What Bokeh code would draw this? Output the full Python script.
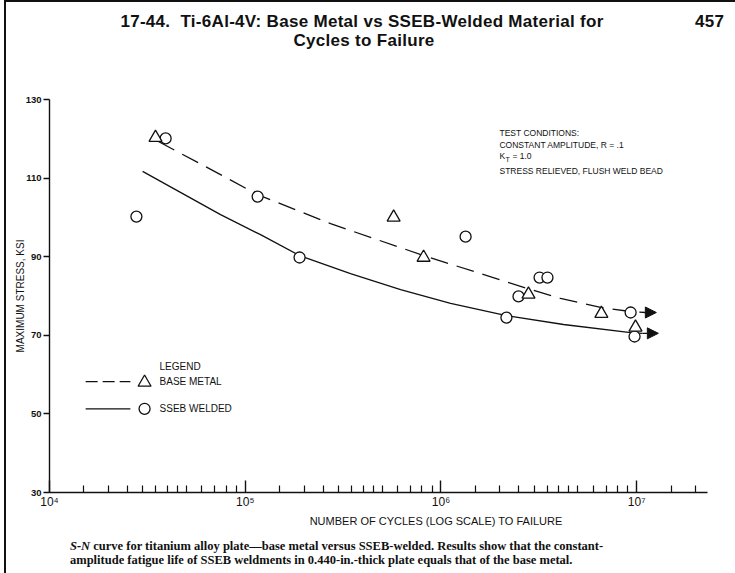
from bokeh.plotting import figure
from bokeh.models import FixedTicker, Label, Arrow, NormalHead, Range1d, Div
from bokeh.layouts import column
from bokeh.embed import file_html
from bokeh.resources import INLINE

# ---- test data (cycles to failure, maximum stress in ksi) ----
base_cycles = [3.48e4, 5.73e5, 8.15e5, 2.80e6, 6.6e6, 9.86e6]
base_stress = [120.3, 100.0, 89.8, 80.4, 75.5, 72.0]

welded_cycles = [3.92e4, 2.78e4, 1.157e5, 1.895e5, 1.336e6, 2.16e6,
                 2.49e6, 3.19e6, 3.50e6, 9.31e6, 9.75e6]
welded_stress = [120.1, 100.2, 105.3, 89.8, 95.1, 74.5,
                 79.9, 84.7, 84.7, 75.8, 69.7]

# ---- faired S-N curves ----
base_curve_cycles = [3.6e4, 5.91e4, 1.157e5, 2.73e5, 8.15e5, 2.77e6, 4.08e6,
                     6.54e6, 9.31e6, 1.11e7]
base_curve_stress = [119.3, 113.6, 105.8, 98.4, 90.3, 81.9, 79.4,
                     77.1, 76.05, 75.8]
base_arrow_tip = 1.26e7

welded_curve_cycles = [2.99e4, 7.48e4, 1.197e5, 1.895e5, 3.45e5, 6.22e5, 1.12e6,
                       2.16e6, 4.23e6, 9.31e6, 1.07e7]
welded_curve_stress = [111.7, 100.7, 95.6, 90.3, 85.7, 81.65, 78.1,
                       75.0, 72.75, 70.7, 70.5]
welded_arrow_tip = 1.29e7

# ---- axes ----
y_ticks = [30, 50, 70, 90, 110, 130]
x_ticks = [1e4, 1e5, 1e6, 1e7]
x_tick_labels = ["10\u2074", "10\u2075", "10\u2076", "10\u2077"]
minor_mantissas = [1.5, 2, 2.5, 3, 3.5, 4, 4.5, 5, 6, 7, 8, 9]
x_minor = [m * d for d in [1e4, 1e5, 1e6] for m in minor_mantissas] + [1.5e7, 2e7]

SANS = "Liberation Sans"
INK = "#111"

p = figure(width=729, height=422, x_axis_type="log",
           x_range=Range1d(1e4, 2.3e7), y_range=Range1d(30, 130),
           output_backend="svg", toolbar_location=None,
           min_border_left=43, min_border_right=28,
           min_border_top=6, min_border_bottom=23, margin=0)
p.outline_line_color = None
p.xgrid.grid_line_color = None
p.ygrid.grid_line_color = None
p.background_fill_color = "white"
p.border_fill_color = "white"

xa = p.xaxis[0]
xa.ticker = FixedTicker(ticks=x_ticks, minor_ticks=x_minor)
xa.major_label_overrides = {int(t): s for t, s in zip(x_ticks, x_tick_labels)}
xa.major_tick_in = 12
xa.major_tick_out = 0
xa.minor_tick_in = 7
xa.minor_tick_out = 0
xa.axis_line_width = 1.4
xa.axis_line_color = INK
xa.major_tick_line_width = 1.4
xa.major_tick_line_color = INK
xa.minor_tick_line_width = 1.2
xa.minor_tick_line_color = INK
xa.major_label_standoff = 2
xa.major_label_text_font = SANS
xa.major_label_text_font_size = "12px"
xa.major_label_text_color = INK

ya = p.yaxis[0]
ya.ticker = FixedTicker(ticks=y_ticks, minor_ticks=[])
ya.major_tick_in = 0
ya.major_tick_out = 6
ya.minor_tick_in = 0
ya.minor_tick_out = 0
ya.axis_line_width = 1.4
ya.axis_line_color = INK
ya.major_tick_line_width = 1.4
ya.major_tick_line_color = INK
ya.major_label_standoff = 2
ya.major_label_text_font = SANS
ya.major_label_text_font_style = "bold"
ya.major_label_text_font_size = "9.5px"
ya.major_label_text_color = INK
ya.axis_label = "MAXIMUM STRESS, KSI"
ya.axis_label_text_font = SANS
ya.axis_label_text_font_style = "normal"
ya.axis_label_text_font_size = "10px"
ya.axis_label_standoff = -3
ya.axis_label_text_color = INK

# ---- curves ----
p.line(base_curve_cycles, base_curve_stress, line_color=INK, line_width=1.3,
       line_dash="18 9")
p.line(welded_curve_cycles, welded_curve_stress, line_color=INK, line_width=1.3)
for xs, ys, tip in [(base_curve_cycles, base_curve_stress, base_arrow_tip),
                    (welded_curve_cycles, welded_curve_stress, welded_arrow_tip)]:
    p.add_layout(Arrow(end=NormalHead(size=11, fill_color=INK, line_color=INK),
                       x_start=xs[-1], y_start=ys[-1], x_end=tip, y_end=ys[-1],
                       line_color=INK, line_width=1.3))

# ---- test points ----
p.scatter(welded_cycles, welded_stress, marker="circle", size=11,
          fill_color="white", line_color=INK, line_width=1.3)
p.scatter(base_cycles, base_stress, marker="triangle", size=13,
          fill_color="white", line_color=INK, line_width=1.3)

# ---- legend ----
p.line([1.53e4, 2.59e4], [58.2, 58.2], line_color=INK, line_width=1.3, line_dash="12 5")
p.line([1.53e4, 2.59e4], [51.3, 51.3], line_color=INK, line_width=1.3)
p.scatter([3.06e4], [58.0], marker="triangle", size=13, fill_color="white",
          line_color=INK, line_width=1.3)
p.scatter([3.06e4], [51.3], marker="circle", size=11, fill_color="white",
          line_color=INK, line_width=1.3)


def note(x, y, text, size="8.5px", style="normal", x_offset=0, y_offset=0):
    p.add_layout(Label(x=x, y=y, text=text, text_font=SANS, text_font_size=size,
                       text_font_style=style, text_align="left",
                       text_baseline="middle", text_color=INK,
                       x_offset=x_offset, y_offset=y_offset))


note(3.65e4, 62.1, "LEGEND", size="10px")
note(3.65e4, 58.2, "BASE METAL", size="10px")
note(3.65e4, 51.3, "SSEB WELDED", size="10px")

# test conditions block
note(1.99e6, 121.6, "TEST CONDITIONS:")
note(1.99e6, 118.5, "CONSTANT AMPLITUDE, R = .1")
note(1.99e6, 115.5, "K")
note(1.99e6, 115.5, "T", size="7px", x_offset=6, y_offset=-3)
note(1.99e6, 115.5, "= 1.0", x_offset=13)
note(1.99e6, 111.7, "STRESS RELIEVED, FLUSH WELD BEAD")

# ---- heading and caption blocks ----
head_html = (
    "<div style=\"position:relative;width:729px;height:91px;"
    "font-family:'Liberation Sans';color:#111;font-weight:bold;font-size:17px;"
    "letter-spacing:0.3px;line-height:18px;\">"
    "<div style=\"position:absolute;left:0;width:712px;top:11px;text-align:center;"
    "white-space:nowrap;\">"
    "17-44.&nbsp; Ti-6Al-4V: Base Metal vs SSEB-Welded Material for</div>"
    "<div style=\"position:absolute;left:0;width:716px;top:30px;text-align:center;"
    "white-space:nowrap;\">Cycles to Failure</div>"
    "<div style=\"position:absolute;left:689px;top:11px;white-space:nowrap;\">457</div>"
    "</div>"
)
head = Div(text=head_html, width=729, height=91, margin=0)

caption_style = ("position:absolute;left:64px;white-space:nowrap;"
                 "font-family:'Liberation Serif';font-weight:bold;font-size:12.5px;"
                 "line-height:13px;")
foot_html = (
    "<div style=\"position:relative;width:729px;height:58px;color:#111;\">"
    "<div style=\"position:absolute;left:0;width:860px;top:0;text-align:center;"
    "font-family:'Liberation Sans';font-size:11px;line-height:13px;white-space:nowrap;\">"
    "NUMBER OF CYCLES (LOG SCALE) TO FAILURE</div>"
    f"<div style=\"{caption_style}top:25px;\">"
    "<i>S-N</i> curve for titanium alloy plate\u2014base metal versus SSEB-welded. "
    "Results show that the constant-</div>"
    f"<div style=\"{caption_style}top:39px;\">"
    "amplitude fatigue life of SSEB weldments in 0.440-in.-thick plate equals "
    "that of the base metal.</div>"
    "</div>"
)
foot = Div(text=foot_html, width=729, height=58, margin=0)

page = column(head, p, foot, spacing=0, margin=0)
page.styles = {"margin-left": "4px", "border-left": "2px solid #111",
               "border-top": "2px solid #111"}

open("out.html", "w").write(file_html(page, INLINE))
